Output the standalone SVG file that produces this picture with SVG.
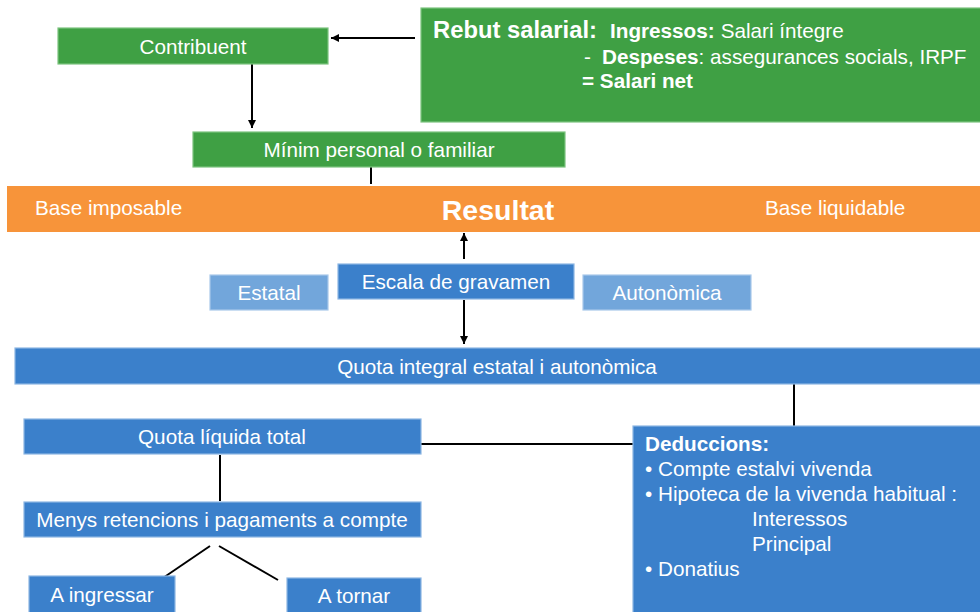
<svg xmlns="http://www.w3.org/2000/svg" width="980" height="612" viewBox="0 0 980 612">
<defs>
<marker id="ah" viewBox="0 0 10 10" refX="10" refY="5" markerWidth="8" markerHeight="8" markerUnits="userSpaceOnUse" orient="auto"><path d="M0,0 L10,5 L0,10 z" fill="#000"/></marker>
<style>
text{font-family:"Liberation Sans",Arial,sans-serif;fill:#fff;font-size:20.7px}
.c{text-anchor:middle}
.b{font-weight:bold}
.g{fill:#3fa044;stroke:#7cc47f;stroke-width:1.2}
.o{fill:#f7943a}
.bl{fill:#3b80cb;stroke:#8db6e3;stroke-width:1.2}
.lb{fill:#72a6db;stroke:#a9c9ea;stroke-width:1.2}
.ln{stroke:#000;stroke-width:2;fill:none}
</style>
</defs>
<rect width="980" height="612" fill="#fff"/>
<g id="connectors">
<line class="ln" x1="415" y1="38" x2="331" y2="38" marker-end="url(#ah)"/>
<line class="ln" x1="252" y1="64" x2="252" y2="128" marker-end="url(#ah)"/>
<line class="ln" x1="371" y1="167" x2="371" y2="184"/>
<line class="ln" x1="464" y1="259" x2="464" y2="233" marker-end="url(#ah)"/>
<line class="ln" x1="464" y1="300" x2="464" y2="344" marker-end="url(#ah)"/>
<line class="ln" x1="794" y1="384" x2="794" y2="427"/>
<line class="ln" x1="421" y1="444" x2="634" y2="444"/>
<line class="ln" x1="220" y1="455" x2="220" y2="501"/>
<line class="ln" x1="210" y1="546" x2="160" y2="580"/>
<line class="ln" x1="219" y1="546" x2="278" y2="580"/>
</g>
<g id="rebut">
<rect class="g" x="421" y="8" width="565" height="114"/>
<text x="433" y="38"><tspan class="b" style="font-size:23.8px">Rebut salarial:</tspan><tspan class="b" x="610">Ingressos:</tspan><tspan dx="6">Salari íntegre</tspan></text>
<text x="584" y="64">-<tspan class="b" x="602">Despeses</tspan>: assegurances socials, IRPF</text>
<text x="582" y="88" class="b">= Salari net</text>
</g>
<g id="contribuent">
<rect class="g" x="58" y="28" width="270" height="36"/>
<text class="c" x="193" y="54">Contribuent</text>
</g>
<g id="minim">
<rect class="g" x="193" y="132" width="372" height="35"/>
<text class="c" x="379" y="157">Mínim personal o familiar</text>
</g>
<g id="resultat">
<rect class="o" x="7" y="186" width="980" height="46"/>
<text x="35" y="215">Base imposable</text>
<text class="c b" x="498" y="220" style="font-size:28.5px">Resultat</text>
<text x="765" y="215">Base liquidable</text>
</g>
<g id="estatal">
<rect class="lb" x="210" y="275" width="118" height="35"/>
<text class="c" x="269" y="300">Estatal</text>
</g>
<g id="escala">
<rect class="bl" x="338" y="264" width="236" height="35"/>
<text class="c" x="456" y="289">Escala de gravamen</text>
</g>
<g id="autonomica">
<rect class="lb" x="583" y="275" width="168" height="35"/>
<text class="c" x="667" y="300">Autonòmica</text>
</g>
<g id="quota-integral">
<rect class="bl" x="15" y="348" width="975" height="36"/>
<text class="c" x="497" y="374">Quota integral estatal i autonòmica</text>
</g>
<g id="quota-liquida">
<rect class="bl" x="24" y="419" width="397" height="35"/>
<text class="c" x="222" y="444">Quota líquida total</text>
</g>
<g id="menys">
<rect class="bl" x="24" y="502" width="397" height="35"/>
<text class="c" x="222" y="527">Menys retencions i pagaments a compte</text>
</g>
<g id="ingressar">
<rect class="bl" x="29" y="576" width="146" height="40"/>
<text class="c" x="102" y="602">A ingressar</text>
</g>
<g id="tornar">
<rect class="bl" x="287" y="578" width="134" height="40"/>
<text class="c" x="354" y="603">A tornar</text>
</g>
<g id="deduccions">
<rect class="bl" x="633" y="426" width="360" height="190"/>
<text class="b" x="645" y="451">Deduccions:</text>
<text x="645" y="476">• Compte estalvi vivenda</text>
<text x="645" y="501">• Hipoteca de la vivenda habitual :</text>
<text x="752" y="526">Interessos</text>
<text x="752" y="551">Principal</text>
<text x="645" y="576">• Donatius</text>
</g>
</svg>
